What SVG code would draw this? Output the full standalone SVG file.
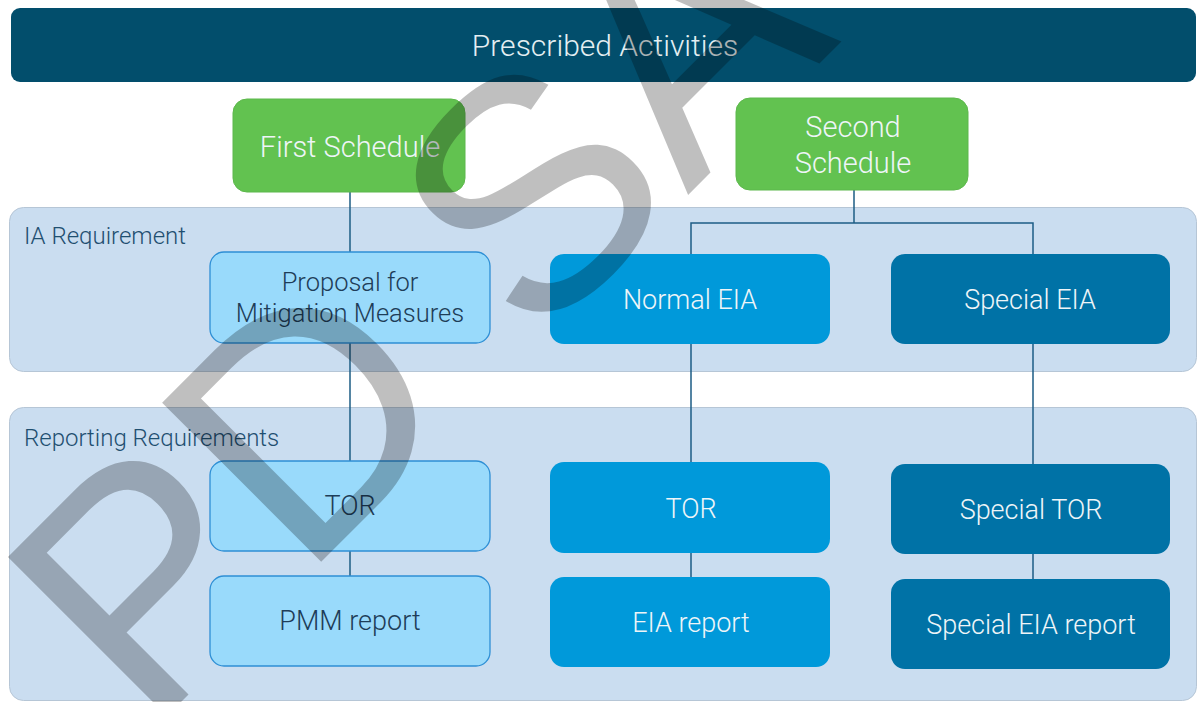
<svg xmlns="http://www.w3.org/2000/svg" width="1197" height="702" viewBox="0 0 1197 702">
  <style>
    .t { font-family: Roboto, "Liberation Sans", Arial, sans-serif; font-weight: 300; text-anchor: middle; }
    .band { fill: #CADDF0; stroke: #B6C6D6; stroke-width: 1; }
    .band-label { font-family: Roboto, "Liberation Sans", Arial, sans-serif; font-weight: 300; font-size: 24px; fill: #1F4F70; }
    .green { fill: #62C250; stroke: #5DB84C; stroke-width: 1; }
    .light { fill: #99DAFB; stroke: #2E8FD5; stroke-width: 1.3; }
    .mid { fill: #0099DA; }
    .deep { fill: #0072A6; }
    .on-dark { fill: #EEF5F8; font-size: 27px; }
    .on-light { fill: #1E3D58; font-size: 27px; }
    .sched { font-size: 29px; }
    .conn { fill: none; stroke: #1D5C85; stroke-width: 1.5; }
    .mark { font-family: "Liberation Sans", Arial, sans-serif; font-size: 327px; fill: #000; fill-opacity: 0.25; }
  </style>

  <!-- header -->
  <g id="prescribed-activities">
    <rect x="11" y="8" width="1185" height="74" rx="9" fill="#024E6C"/>
    <text class="t" x="605" y="56" font-size="30" fill="#E4EEF2">Prescribed Activities</text>
  </g>

  <!-- swimlane bands -->
  <g id="ia-requirement">
    <rect class="band" x="9.5" y="207.5" width="1187" height="164" rx="14"/>
    <text class="band-label" x="24" y="244">IA Requirement</text>
  </g>
  <g id="reporting-requirements">
    <rect class="band" x="9.5" y="407.5" width="1187" height="293" rx="14"/>
    <text class="band-label" x="24" y="446">Reporting Requirements</text>
  </g>

  <!-- connectors -->
  <g id="connectors">
    <line class="conn" x1="350" y1="192" x2="350" y2="576"/>
    <polyline class="conn" points="854,190 854,223"/>
    <polyline class="conn" points="691,577 691,223 1033,223 1033,580"/>
  </g>

  <!-- schedules -->
  <g id="first-schedule">
    <rect class="green" x="233" y="99" width="232" height="93" rx="14"/>
    <text class="t on-dark sched" x="350" y="157">First Schedule</text>
  </g>
  <g id="second-schedule">
    <rect class="green" x="736" y="98" width="232" height="92" rx="14"/>
    <text class="t on-dark sched" x="853" y="137">Second</text>
    <text class="t on-dark sched" x="853" y="173">Schedule</text>
  </g>

  <!-- IA requirement nodes -->
  <g id="proposal-mitigation">
    <rect class="light" x="210" y="252" width="280" height="91" rx="14"/>
    <text class="t on-light" x="350" y="291" style="font-size:25.5px">Proposal for</text>
    <text class="t on-light" x="350" y="322" style="font-size:25.5px">Mitigation Measures</text>
  </g>
  <g id="normal-eia">
    <rect class="mid" x="550" y="254" width="280" height="90" rx="14"/>
    <text class="t on-dark" x="690" y="309">Normal EIA</text>
  </g>
  <g id="special-eia">
    <rect class="deep" x="891" y="254" width="279" height="90" rx="14"/>
    <text class="t on-dark" x="1030" y="309">Special EIA</text>
  </g>

  <!-- reporting nodes -->
  <g id="tor-first">
    <rect class="light" x="210" y="461" width="280" height="90" rx="14"/>
    <text class="t on-light" x="350" y="515">TOR</text>
  </g>
  <g id="pmm-report">
    <rect class="light" x="210" y="576" width="280" height="90" rx="14"/>
    <text class="t on-light" x="350" y="630">PMM report</text>
  </g>
  <g id="tor-normal">
    <rect class="mid" x="550" y="462" width="280" height="91" rx="14"/>
    <text class="t on-dark" x="691" y="518">TOR</text>
  </g>
  <g id="eia-report">
    <rect class="mid" x="550" y="577" width="280" height="90" rx="14"/>
    <text class="t on-dark" x="691" y="632">EIA report</text>
  </g>
  <g id="special-tor">
    <rect class="deep" x="891" y="464" width="279" height="90" rx="14"/>
    <text class="t on-dark" x="1031" y="519">Special TOR</text>
  </g>
  <g id="special-eia-report">
    <rect class="deep" x="891" y="579" width="279" height="90" rx="14"/>
    <text class="t on-dark" x="1031" y="634">Special EIA report</text>
  </g>

  <!-- translucent diagonal watermark -->
  <text class="mark" transform="translate(148 735) rotate(-45)">PD SA</text>
</svg>
